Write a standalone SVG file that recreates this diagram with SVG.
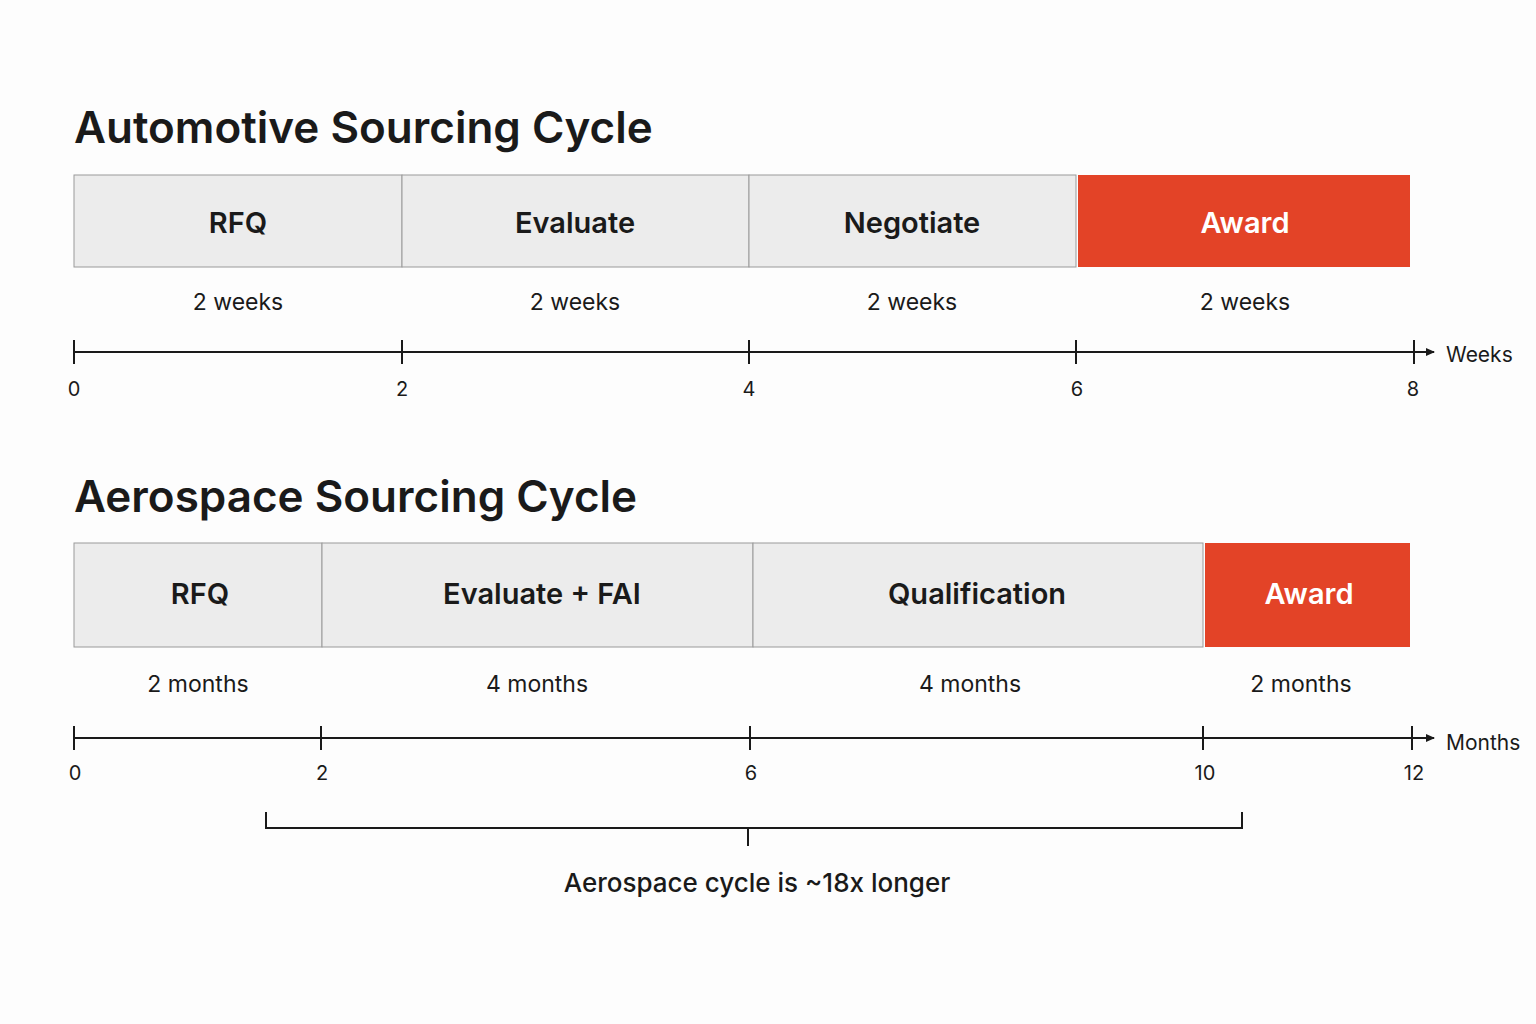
<svg xmlns="http://www.w3.org/2000/svg" width="1536" height="1024" viewBox="0 0 1536 1024">
<style>
text{font-family:Inter,"Liberation Sans",sans-serif;fill:#1a1a1a}
.t{font-size:44px;font-weight:600}
.b{fill:#ececec;stroke:#9a9a9a;stroke-width:1}
.a{fill:#e34327}
.bl{font-size:29px;font-weight:600;text-anchor:middle}
.w{fill:#fff}
.d{font-size:23px;text-anchor:middle}
.n{font-size:20px;text-anchor:middle}
.ax{stroke:#1a1a1a;stroke-width:2;fill:none}
</style>
<defs><marker id="ar" markerWidth="10" markerHeight="10" refX="8" refY="5" orient="auto" markerUnits="userSpaceOnUse"><path d="M0,1 L9,5 L0,9 Z" fill="#1a1a1a"/></marker></defs>
<rect width="1536" height="1024" fill="#fdfdfd"/>
<text class="t" x="74" y="143">Automotive Sourcing Cycle</text>
<text class="t" x="74" y="512">Aerospace Sourcing Cycle</text>
<g id="auto-rfq"><rect class="b" x="74" y="175" width="328" height="92"/><text class="bl" x="238" y="233">RFQ</text><text class="d" x="238" y="310">2 weeks</text></g>
<g id="auto-eval"><rect class="b" x="402" y="175" width="347" height="92"/><text class="bl" x="575" y="233">Evaluate</text><text class="d" x="575" y="310">2 weeks</text></g>
<g id="auto-neg"><rect class="b" x="749" y="175" width="327" height="92"/><text class="bl" x="912" y="233">Negotiate</text><text class="d" x="912" y="310">2 weeks</text></g>
<g id="auto-award"><rect class="a" x="1078" y="175" width="332" height="92"/><text class="bl w" x="1245" y="233">Award</text><text class="d" x="1245" y="310">2 weeks</text></g>
<g id="aero-rfq"><rect class="b" x="74" y="543" width="248" height="104"/><text class="bl" x="200" y="604">RFQ</text><text class="d" x="198" y="692">2 months</text></g>
<g id="aero-eval"><rect class="b" x="322" y="543" width="431" height="104"/><text class="bl" x="542" y="604">Evaluate + FAI</text><text class="d" x="537" y="692">4 months</text></g>
<g id="aero-qual"><rect class="b" x="753" y="543" width="450" height="104"/><text class="bl" x="977" y="604">Qualification</text><text class="d" x="970" y="692">4 months</text></g>
<g id="aero-award"><rect class="a" x="1205" y="543" width="205" height="104"/><text class="bl w" x="1309" y="604">Award</text><text class="d" x="1301" y="692">2 months</text></g>
<g id="connectors">
<path class="ax" d="M74,352 H1434" marker-end="url(#ar)"/>
<path class="ax" d="M74,340 v24 M402,340 v24 M749,340 v24 M1076,340 v24 M1414,340 v24"/>
<path class="ax" d="M74,738 H1434" marker-end="url(#ar)"/>
<path class="ax" d="M74,726 v24 M321,726 v24 M750,726 v24 M1203,726 v24 M1412,726 v24"/>
<path class="ax" d="M266,812 v16 H1242 v-16 M748,828 v18"/>
</g>
<text class="n" x="74" y="396">0</text><text class="n" x="402" y="396">2</text><text class="n" x="749" y="396">4</text><text class="n" x="1077" y="396">6</text><text class="n" x="1413" y="396">8</text>
<text x="1446" y="362" style="font-size:21px">Weeks</text>
<text class="n" x="75" y="780">0</text><text class="n" x="322" y="780">2</text><text class="n" x="751" y="780">6</text><text class="n" x="1205" y="780">10</text><text class="n" x="1414" y="780">12</text>
<text x="1446" y="750" style="font-size:21px">Months</text>
<text x="757" y="892" style="font-size:26px;font-weight:500;text-anchor:middle">Aerospace cycle is ~18x longer</text>
</svg>
